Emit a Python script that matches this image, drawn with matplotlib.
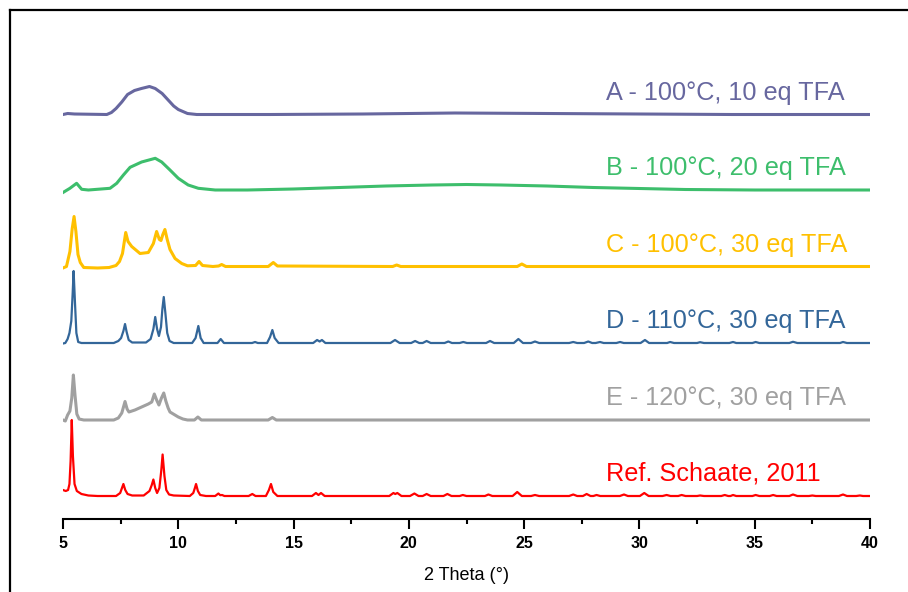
import matplotlib
matplotlib.use("Agg")
import matplotlib.pyplot as plt
from matplotlib.lines import Line2D
from matplotlib.ticker import MultipleLocator

plt.rcParams['font.family'] = ['Liberation Sans', 'DejaVu Sans']

# ---- data: (2theta, relative intensity) key points ----
A_pts = [(5.0,0),(5.2,1),(5.5,0.5),(6.9,0),(7.1,2),(7.3,6),(7.55,12.5),(7.8,20),(8.1,24),
         (8.4,26),(8.75,28),(9.0,26),(9.3,21),(9.6,13.5),(9.8,8.5),(10.0,5),(10.4,1),(10.8,0),
         (14,0),(18,0.5),(22,1.5),(26,1),(30,0.5),(34,0),(40,0)]

B_pts = [(5.0,-2.5),(5.3,1.7),(5.59,6.7),(5.81,0.7),(6.1,0),(7.04,1.7),(7.33,6.7),(7.62,15),
         (7.91,22.7),(8.41,28),(9.0,31.7),(9.28,28),(9.64,20),(10.0,11.7),(10.43,5),(10.87,1.7),
         (11.6,0),(13,0),(15,1),(17,2.5),(19,4),(21,5),(22.5,5.5),(24,5),(26,4),(28,2.5),
         (30,1.5),(32,0.5),(35,0),(40,0)]

C_pts = [(5.0,-1.5),(5.15,0),(5.3,15),(5.4,38),(5.48,50),(5.56,35),(5.65,12),(5.75,4),(5.9,-1),
         (6.5,-1.5),(7.0,-1),(7.3,1),(7.45,5),(7.58,13),(7.72,34),(7.82,25),(7.98,20),(8.34,13),
         (8.7,14),(8.92,23),(9.06,35),(9.18,27),(9.25,26),(9.33,32),(9.42,37),(9.52,27),(9.64,17),
         (9.86,8),(10.15,3),(10.4,0.7),(10.75,1),(10.9,5),(11.05,1),(11.5,0),(11.75,0.5),(11.88,2),
         (12.05,0),(13.9,0),(14.12,4),(14.3,0.5),(19.3,0),(19.47,1.5),(19.65,0),(24.7,0),(24.9,2.5),
         (25.1,0),(40,0)]

D_pts = [(5.0,-0.5),(5.1,0),(5.2,4),(5.28,10),(5.36,22),(5.42,50),(5.46,72),(5.52,40),(5.58,10),
         (5.66,1),(5.8,0),(7.2,0),(7.4,2),(7.52,5),(7.62,12),(7.69,19),(7.76,11),(7.85,3),(8.0,0.5),
         (8.6,0.5),(8.8,4),(8.92,14),(9.0,26),(9.08,14),(9.16,7),(9.25,16),(9.31,34),(9.37,46),
         (9.44,30),(9.52,10),(9.62,2),(9.8,0),(10.6,0),(10.75,5),(10.87,17),(10.97,5),(11.1,0),
         (11.7,0),(11.84,4),(11.98,0),(13.2,0),(13.33,1),(13.45,0),(13.85,0),(13.98,6),(14.08,13),
         (14.18,5),(14.35,0),(15.85,0),(16.02,3),(16.13,1.5),(16.23,3),(16.38,0),(19.2,0),(19.4,3),
         (19.6,0),(20.1,0),(20.27,2),(20.45,0),(20.6,0),(20.77,2),(20.95,0),(21.55,0),(21.71,1.5),
         (21.87,0),(22.2,0),(22.36,1),(22.52,0),(23.35,0),(23.52,2),(23.7,0),(24.55,0),(24.75,4),
         (24.95,0),(25.3,0),(25.47,1.5),(25.65,0),(26.95,0),(27.13,1),(27.3,0),(27.6,0),(27.78,1.5),
         (27.95,0),(28.1,0),(28.29,1),(28.45,0),(29.0,0),(29.16,1),(29.32,0),(30.05,0),(30.24,3),
         (30.42,0),(31.2,0),(31.33,1),(31.5,0),(32.5,0),(32.63,0.8),(32.8,0),(33.9,0),(34.06,1),
         (34.2,0),(34.9,0),(35.04,1),(35.2,0),(36.5,0),(36.66,1.2),(36.85,0),(38.7,0),(38.83,1),
         (39.0,0),(40,0)]

E_pts = [(5.0,0),(5.1,-1),(5.2,5),(5.3,9),(5.38,22),(5.45,45),(5.52,25),(5.6,6),(5.7,1),(5.9,0),
         (7.2,0),(7.4,2),(7.55,7),(7.69,18.5),(7.78,11),(7.86,8),(8.12,10),(8.41,13),(8.7,16),
         (8.85,18),(8.96,26),(9.06,20),(9.16,15),(9.27,22),(9.37,27),(9.46,19),(9.56,12),(9.64,8),
         (10.0,3),(10.2,1),(10.4,0),(10.7,0),(10.85,3),(11.0,0),(13.9,0),(14.08,2.5),(14.25,0),(40,0)]

Ref_pts = [(5.0,6),(5.12,5),(5.22,6),(5.28,12),(5.33,35),(5.38,76),(5.43,40),(5.5,12),(5.6,5),
           (5.8,2),(6.1,0.5),(6.5,0),(7.3,0),(7.48,3),(7.56,8),(7.62,12),(7.7,6),(7.8,2),(8.0,0.5),
           (8.5,0.5),(8.75,5),(8.85,11),(8.92,16.5),(9.0,8),(9.08,3),(9.18,8),(9.26,25),(9.32,41.5),
           (9.4,20),(9.48,6),(9.6,1.5),(9.8,0.5),(10.5,0),(10.65,3),(10.72,8),(10.77,12),(10.85,5),
           (10.95,1),(11.2,0),(11.6,0),(11.74,2.5),(11.82,0.8),(11.9,1),(12.0,0),(13.05,0),(13.21,2),
           (13.35,0),(13.8,0),(13.93,6),(14.02,12),(14.12,4),(14.3,0),(15.8,0),(15.97,3),(16.08,1),
           (16.19,3),(16.35,0),(19.15,0),(19.33,3),(19.41,2),(19.5,3),(19.68,0),(20.05,0),(20.24,2.5),
           (20.42,0),(20.6,0),(20.77,2),(20.95,0),(21.5,0),(21.67,2),(21.85,0),(22.2,0),(22.34,1),
           (22.5,0),(23.3,0),(23.45,1.5),(23.62,0),(24.5,0),(24.7,4),(24.9,0),(25.3,0),(25.47,1),
           (25.65,0),(26.95,0),(27.13,1.5),(27.3,0),(27.55,0),(27.71,2),(27.88,0),(28.0,0),(28.14,1),
           (28.3,0),(29.15,0),(29.33,1.5),(29.5,0),(30.02,0),(30.21,3),(30.4,0),(31.0,0),(31.18,1),
           (31.35,0),(31.68,0),(31.83,1),(32.0,0),(32.5,0),(32.63,0.5),(32.8,0),(33.55,0),(33.7,1),
           (33.85,0),(33.95,0),(34.06,1),(34.2,0),(34.9,0),(35.04,1),(35.2,0),(35.65,0),(35.8,1),
           (35.95,0),(36.5,0),(36.66,1.5),(36.85,0),(37.35,0),(37.5,0.5),(37.65,0),(38.65,0),
           (38.83,1.5),(39.0,0),(39.4,0),(39.56,0.5),(39.7,0),(40,0)]

labels = ["A - 100°C, 10 eq TFA", "B - 100°C, 20 eq TFA", "C - 100°C, 30 eq TFA",
          "D - 110°C, 30 eq TFA", "E - 120°C, 30 eq TFA", "Ref. Schaate, 2011"]
series = [A_pts, B_pts, C_pts, D_pts, E_pts, Ref_pts]
offsets = [404.5, 329, 252.5, 176, 99, 23]
label_y = [419, 344, 267, 190.7, 114, 38.3]
colors = ['#67679F', '#3DBE6C', '#FFC000', '#336699', '#A0A0A0', '#FF0000']
widths = [2.2, 2.2, 2.2, 1.6, 2.2, 1.6]
xticks = [5, 10, 15, 20, 25, 30, 35, 40]

W, H = 908, 592
fig = plt.figure(figsize=(W/100, H/100), dpi=100)
ax = fig.add_axes([63/W, (H-519)/H, (870-63)/W, (519-10)/H])

for pts, off, c, lw in zip(series, offsets, colors, widths):
    xs = [p[0] for p in pts]
    ys = [p[1] + off for p in pts]
    ax.plot(xs, ys, color=c, lw=lw, solid_joinstyle='round')

for lab, ly, c in zip(labels, label_y, colors):
    ax.text(28.55, ly, lab, color=c, fontsize=18.2, ha='left', va='baseline')

ax.set_xlim(5, 40)
ax.set_ylim(0, 509)
ax.set_xticks(xticks)
ax.set_xticklabels([str(t) for t in xticks], fontweight='bold', fontsize=11.5)
ax.xaxis.set_minor_locator(MultipleLocator(2.5))
ax.tick_params(axis='x', which='major', direction='out', length=7, width=1.5, pad=5, colors='black')
ax.tick_params(axis='x', which='minor', direction='out', length=3.5, width=1.5)
ax.set_yticks([])
for s in ['left', 'right', 'top']:
    ax.spines[s].set_visible(False)
ax.spines['bottom'].set_linewidth(1.5)
ax.set_xlabel("2 Theta (°)", fontsize=13, labelpad=12)

# outer frame (left and top edges)
fig.add_artist(Line2D([9.5/W, 9.5/W], [0, 1 - 9.5/H], transform=fig.transFigure, color='black', lw=1.6))
fig.add_artist(Line2D([9.5/W, 1], [1 - 9.5/H, 1 - 9.5/H], transform=fig.transFigure, color='black', lw=1.6))

fig.savefig("out.png", dpi=100)
